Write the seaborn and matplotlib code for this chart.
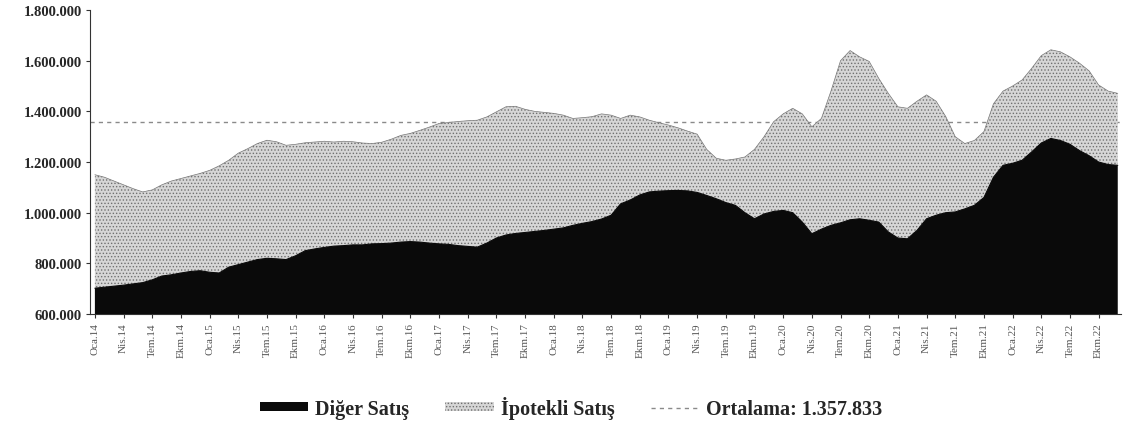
import numpy as np
import pandas as pd
import matplotlib
matplotlib.use("Agg")
import matplotlib.pyplot as plt
import seaborn as sns
from matplotlib.patches import Patch
from matplotlib.lines import Line2D
from matplotlib.ticker import FuncFormatter

# ---- data (monthly, 12-month rolling totals, Jan 2014 - Dec 2022) ----
months_tr = ["Oca", "Şub", "Mar", "Nis", "May", "Haz", "Tem", "Ağu", "Eyl", "Ekm", "Kas", "Ara"]
years = list(range(14, 23))

diger = [702, 706, 710, 714, 719, 724, 735, 750, 755, 762, 768, 771,
         765, 762, 785, 795, 805, 815, 820, 818, 815, 830, 850, 857,
         863, 868, 870, 873, 873, 877, 878, 880, 884, 886, 884, 880,
         877, 875, 870, 867, 864, 880, 900, 912, 918, 922, 926, 930,
         935, 940, 950, 958, 965, 975, 990, 1035, 1050, 1070, 1082, 1085,
         1087, 1088, 1086, 1080, 1068, 1055, 1040, 1029, 1000, 976, 995, 1005,
         1009, 1000, 963, 917, 935, 950, 960, 972, 976, 970, 963, 924,
         900, 897, 930, 976, 990, 1000, 1003, 1015, 1029, 1060, 1140, 1187,
         1195, 1207, 1240, 1275, 1293, 1285, 1270, 1245, 1225, 1200, 1190, 1187]

toplam = [1150, 1140, 1125, 1110, 1095, 1082, 1090, 1110, 1125, 1135, 1145, 1155,
          1167, 1185, 1207, 1235, 1253, 1273, 1286, 1280, 1266, 1270, 1276, 1279,
          1282, 1279, 1282, 1280, 1275, 1273, 1278, 1290, 1305, 1313, 1325, 1338,
          1352, 1356, 1360, 1363, 1365, 1378, 1398, 1418, 1420, 1408, 1400, 1396,
          1392, 1385, 1372, 1375, 1379, 1390, 1385, 1372, 1385, 1378, 1365, 1355,
          1346, 1335, 1322, 1310, 1250, 1215, 1207, 1212, 1220, 1250, 1300, 1359,
          1390, 1412, 1390, 1339, 1372, 1480, 1600, 1640, 1615, 1597, 1530, 1471,
          1418, 1412, 1440, 1465, 1440, 1380, 1300, 1273, 1285, 1320, 1430, 1480,
          1500, 1524, 1570, 1620, 1643, 1635, 1615, 1590, 1560, 1504, 1480, 1471]

ipotekli = [t - d for t, d in zip(toplam, diger)]
ortalama = 1357833

labels = [f"{m}.{y}" for y in years for m in months_tr]

df = pd.DataFrame({
    "idx": np.arange(len(diger)),
    "ay": labels,
    "Diger": np.array(diger) * 1000,
    "Ipotekli": np.array(ipotekli) * 1000,
})
df["Toplam"] = df["Diger"] + df["Ipotekli"]

# ---- style ----
sns.set_theme(style="white")
plt.rcParams["font.family"] = ["Liberation Serif", "DejaVu Serif"]
plt.rcParams["hatch.linewidth"] = 0.6

fig = plt.figure(figsize=(11.24, 4.31), dpi=100)
ax = fig.add_axes([0.080, 0.269, 0.917, 0.7055])

ymin = 600000
# average line (behind areas)
ax.axhline(ortalama, color="#8a8a8a", lw=1.0, ls=(0, (3, 3)), zorder=1)

# stacked areas
ax.fill_between(df["idx"], ymin, df["Diger"], facecolor="#0a0a0a",
                edgecolor="none", zorder=3)
ax.fill_between(df["idx"], df["Diger"], df["Toplam"], facecolor="#d6d6d6",
                edgecolor="#707070", hatch=".....", linewidth=0, zorder=2)
sns.lineplot(data=df, x="idx", y="Toplam", ax=ax, color="#777777", lw=0.5, zorder=4)
sns.lineplot(data=df, x="idx", y="Diger", ax=ax, color="#0a0a0a", lw=0.8, zorder=4)

ax.set_xlim(-0.52, 107.3)
ax.set_ylim(ymin, 1800000)
ax.set_yticks(np.arange(600000, 1800001, 200000))
ax.yaxis.set_major_formatter(FuncFormatter(lambda v, p: f"{int(v):,}".replace(",", ".")))
for t in ax.get_yticklabels():
    t.set_fontweight("bold")
    t.set_fontsize(10.5)

tick_pos = df["idx"][::3]
ax.set_xticks(tick_pos)
ax.set_xticklabels(df["ay"][::3], rotation=90, fontsize=8, color="#555555")
ax.set_xlabel("")
ax.set_ylabel("")

for s in ["top", "right"]:
    ax.spines[s].set_visible(False)
for s in ["left", "bottom"]:
    ax.spines[s].set_color("#333333")
    ax.spines[s].set_linewidth(0.8)
ax.tick_params(axis="both", which="major", direction="out", length=3, width=0.8,
               color="#333333", bottom=True, left=True, pad=3)

handles = [
    Patch(facecolor="#0a0a0a", edgecolor="none"),
    Patch(facecolor="#d6d6d6", edgecolor="#707070", hatch=".....", linewidth=0),
    Line2D([0], [0], color="#8a8a8a", lw=1.0, ls=(0, (3, 3))),
]
leg = fig.legend(handles, ["Diğer Satış", "İpotekli Satış", "Ortalama: 1.357.833"],
                 loc="center", bbox_to_anchor=(0.508, 0.053), ncol=3, frameon=False,
                 handlelength=2.4, handleheight=0.35, columnspacing=1.8,
                 handletextpad=0.35, prop={"weight": "bold", "size": 14.5})

fig.savefig("out.png", dpi=100)
